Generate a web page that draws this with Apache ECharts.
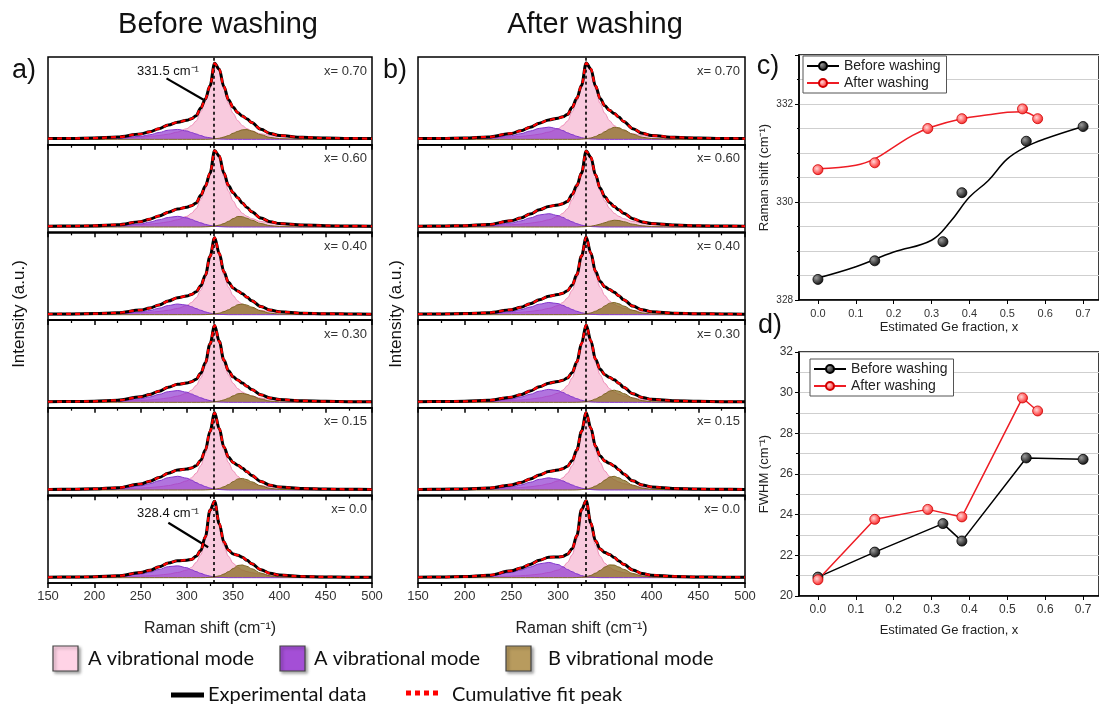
<!DOCTYPE html>
<html>
<head>
<meta charset="utf-8">
<script src="https://cdn.jsdelivr.net/npm/echarts@6/dist/echarts.min.js"></script>
<style>
  html, body { margin: 0; padding: 0; background: #fff; }
  #chart { width: 1099px; height: 705px; }
</style>
</head>
<body>
<div id="chart"></div>
<script>
// Raman shift sample positions (cm-1)
var ramanX = [150, 175, 200, 225, 250, 260, 270, 280, 290, 300, 305, 310, 315, 320, 325, 330,
  335, 340, 345, 350, 355, 360, 365, 370, 380, 390, 400, 425, 450, 475, 500];
var fractionLabels = ['x= 0.70', 'x= 0.60', 'x= 0.40', 'x= 0.30', 'x= 0.15', 'x= 0.0'];

// main A mode (pink), normalised
var pinkWide = [0.01, 0.012, 0.015, 0.02, 0.03, 0.038, 0.05, 0.068, 0.095, 0.14, 0.18, 0.24, 0.36, 0.5, 0.68, 0.98,
  0.9, 0.66, 0.47, 0.34, 0.245, 0.18, 0.14, 0.11, 0.072, 0.052, 0.04, 0.025, 0.017, 0.012, 0.01];
var pinkMid = [0.008, 0.01, 0.012, 0.016, 0.025, 0.032, 0.042, 0.058, 0.082, 0.12, 0.16, 0.22, 0.32, 0.48, 0.74, 0.99,
  0.78, 0.52, 0.36, 0.25, 0.18, 0.135, 0.105, 0.083, 0.056, 0.041, 0.031, 0.019, 0.013, 0.009, 0.007];
var pinkNarrow = [0.006, 0.008, 0.01, 0.013, 0.02, 0.026, 0.034, 0.047, 0.068, 0.1, 0.135, 0.2, 0.3, 0.5, 0.86, 0.98,
  0.68, 0.42, 0.28, 0.19, 0.135, 0.1, 0.08, 0.065, 0.045, 0.033, 0.025, 0.015, 0.01, 0.007, 0.005];
var pinkBefore = [pinkWide, pinkWide, pinkMid, pinkMid, pinkMid, pinkNarrow];
var pinkAfter = [pinkWide, pinkWide, pinkMid, pinkMid, pinkMid, pinkNarrow];

// second A mode (purple)
var purpleBefore = [
  [0, 0, 0.002, 0.01, 0.04, 0.06, 0.09, 0.12, 0.13, 0.11, 0.09, 0.07, 0.05, 0.03, 0.02, 0.01, 0.005, 0.002, 0, 0, 0, 0, 0, 0, 0, 0, 0, 0, 0, 0, 0],
  [0, 0, 0.002, 0.01, 0.04, 0.065, 0.095, 0.125, 0.14, 0.12, 0.1, 0.075, 0.055, 0.035, 0.02, 0.01, 0.005, 0.002, 0, 0, 0, 0, 0, 0, 0, 0, 0, 0, 0, 0, 0],
  [0, 0, 0.002, 0.008, 0.035, 0.055, 0.085, 0.12, 0.14, 0.125, 0.105, 0.08, 0.058, 0.037, 0.02, 0.01, 0.005, 0.002, 0, 0, 0, 0, 0, 0, 0, 0, 0, 0, 0, 0, 0],
  [0, 0, 0.002, 0.011, 0.047, 0.071, 0.105, 0.14, 0.155, 0.133, 0.11, 0.084, 0.06, 0.039, 0.022, 0.011, 0.005, 0.002, 0, 0, 0, 0, 0, 0, 0, 0, 0, 0, 0, 0, 0],
  [0, 0, 0.003, 0.013, 0.054, 0.083, 0.122, 0.162, 0.18, 0.155, 0.13, 0.097, 0.07, 0.045, 0.025, 0.013, 0.006, 0.003, 0, 0, 0, 0, 0, 0, 0, 0, 0, 0, 0, 0, 0],
  [0, 0, 0.002, 0.011, 0.047, 0.071, 0.108, 0.145, 0.155, 0.13, 0.105, 0.08, 0.057, 0.036, 0.02, 0.01, 0.005, 0.002, 0, 0, 0, 0, 0, 0, 0, 0, 0, 0, 0, 0, 0]
];
var purpleAfter = [
  [0, 0, 0.002, 0.011, 0.048, 0.074, 0.109, 0.144, 0.16, 0.138, 0.115, 0.086, 0.062, 0.04, 0.022, 0.011, 0.006, 0.002, 0, 0, 0, 0, 0, 0, 0, 0, 0, 0, 0, 0, 0],
  [0, 0, 0.003, 0.012, 0.053, 0.08, 0.119, 0.158, 0.175, 0.15, 0.126, 0.095, 0.068, 0.044, 0.025, 0.012, 0.006, 0.003, 0, 0, 0, 0, 0, 0, 0, 0, 0, 0, 0, 0, 0],
  [0, 0, 0.002, 0.009, 0.04, 0.065, 0.1, 0.138, 0.16, 0.145, 0.122, 0.095, 0.068, 0.045, 0.026, 0.013, 0.006, 0.002, 0, 0, 0, 0, 0, 0, 0, 0, 0, 0, 0, 0, 0],
  [0, 0, 0.002, 0.01, 0.043, 0.069, 0.106, 0.147, 0.17, 0.154, 0.13, 0.1, 0.072, 0.048, 0.028, 0.014, 0.007, 0.002, 0, 0, 0, 0, 0, 0, 0, 0, 0, 0, 0, 0, 0],
  [0, 0, 0.002, 0.009, 0.042, 0.066, 0.102, 0.14, 0.16, 0.142, 0.12, 0.092, 0.066, 0.043, 0.025, 0.012, 0.006, 0.002, 0, 0, 0, 0, 0, 0, 0, 0, 0, 0, 0, 0, 0],
  [0, 0, 0.004, 0.018, 0.07, 0.1, 0.14, 0.182, 0.2, 0.172, 0.144, 0.108, 0.078, 0.05, 0.028, 0.014, 0.007, 0.003, 0, 0, 0, 0, 0, 0, 0, 0, 0, 0, 0, 0, 0]
];

// B mode (brown)
var brownBefore = [
  [0, 0, 0, 0, 0, 0, 0, 0, 0, 0, 0, 0, 0, 0, 0.002, 0.007, 0.014, 0.03, 0.05, 0.08, 0.105, 0.125, 0.128, 0.11, 0.06, 0.025, 0.009, 0.001, 0, 0, 0],
  [0, 0, 0, 0, 0, 0, 0, 0, 0, 0, 0, 0, 0, 0.002, 0.005, 0.012, 0.025, 0.045, 0.075, 0.11, 0.138, 0.135, 0.115, 0.09, 0.045, 0.018, 0.006, 0.001, 0, 0, 0],
  [0, 0, 0, 0, 0, 0, 0, 0, 0, 0, 0, 0, 0, 0.001, 0.004, 0.01, 0.02, 0.04, 0.065, 0.1, 0.13, 0.14, 0.125, 0.1, 0.05, 0.02, 0.007, 0.001, 0, 0, 0],
  [0, 0, 0, 0, 0, 0, 0, 0, 0, 0, 0, 0, 0, 0.001, 0.003, 0.008, 0.016, 0.032, 0.055, 0.085, 0.112, 0.118, 0.105, 0.085, 0.043, 0.017, 0.006, 0.001, 0, 0, 0],
  [0, 0, 0, 0, 0, 0, 0, 0, 0, 0, 0, 0, 0, 0.001, 0.004, 0.01, 0.021, 0.042, 0.072, 0.11, 0.145, 0.152, 0.135, 0.108, 0.055, 0.022, 0.008, 0.001, 0, 0, 0],
  [0, 0, 0, 0, 0, 0, 0, 0, 0, 0, 0, 0, 0, 0.001, 0.005, 0.012, 0.024, 0.047, 0.08, 0.12, 0.16, 0.167, 0.148, 0.118, 0.06, 0.024, 0.009, 0.001, 0, 0, 0]
];
var brownAfter = [
  [0, 0, 0, 0, 0, 0, 0, 0, 0, 0, 0, 0, 0, 0, 0.003, 0.009, 0.018, 0.038, 0.066, 0.1, 0.135, 0.158, 0.152, 0.125, 0.068, 0.028, 0.01, 0.001, 0, 0, 0],
  [0, 0, 0, 0, 0, 0, 0, 0, 0, 0, 0, 0, 0, 0, 0.002, 0.005, 0.01, 0.022, 0.038, 0.057, 0.077, 0.089, 0.085, 0.07, 0.037, 0.015, 0.005, 0, 0, 0, 0],
  [0, 0, 0, 0, 0, 0, 0, 0, 0, 0, 0, 0, 0, 0.001, 0.004, 0.011, 0.023, 0.046, 0.075, 0.115, 0.15, 0.16, 0.143, 0.114, 0.057, 0.023, 0.008, 0.001, 0, 0, 0],
  [0, 0, 0, 0, 0, 0, 0, 0, 0, 0, 0, 0, 0, 0.001, 0.004, 0.01, 0.022, 0.044, 0.073, 0.112, 0.148, 0.16, 0.145, 0.116, 0.058, 0.023, 0.008, 0.001, 0, 0, 0],
  [0, 0, 0, 0, 0, 0, 0, 0, 0, 0, 0, 0, 0, 0.001, 0.005, 0.012, 0.026, 0.052, 0.085, 0.13, 0.17, 0.18, 0.16, 0.128, 0.064, 0.026, 0.009, 0.001, 0, 0, 0],
  [0, 0, 0, 0, 0, 0, 0, 0, 0, 0, 0, 0, 0, 0.002, 0.006, 0.015, 0.03, 0.06, 0.095, 0.14, 0.168, 0.165, 0.14, 0.11, 0.055, 0.022, 0.008, 0.001, 0, 0, 0]
];

// peak-position markers / arrows (cm-1, norm. intensity)
var peakLine = 329.5;
var arrowTop = [[278, 0.8], [318, 0.52]];
var arrowBottom = [[280, 0.72], [323, 0.4]];

// c) Raman shift vs Ge fraction
var geBefore = [0, 0.15, 0.33, 0.38, 0.55, 0.7];
var shiftBefore = [328.42, 328.8, 329.19, 330.19, 331.24, 331.54];
var geAfter = [0, 0.15, 0.29, 0.38, 0.54, 0.58];
var shiftAfter = [330.66, 330.8, 331.5, 331.7, 331.9, 331.7];
var fitBeforeX = [0, 0.1, 0.2, 0.3, 0.35, 0.4, 0.45, 0.5, 0.55, 0.6, 0.7];
var fitBeforeY = [328.45, 328.68, 328.98, 329.22, 329.6, 330.1, 330.44, 330.88, 331.13, 331.29, 331.54];
var fitAfterX = [0, 0.1, 0.15, 0.2, 0.25, 0.3, 0.38, 0.45, 0.5, 0.54, 0.58];
var fitAfterY = [330.68, 330.75, 330.88, 331.12, 331.36, 331.53, 331.7, 331.78, 331.83, 331.84, 331.7];

// d) FWHM vs Ge fraction
var fwhmBefore = [20.93, 22.16, 23.56, 22.7, 26.79, 26.72];
var fwhmAfter = [20.8, 23.77, 24.26, 23.89, 29.74, 29.1];
var geTicks = [0, 0.1, 0.2, 0.3, 0.4, 0.5, 0.6, 0.7];

var FONT = "'Liberation Sans', Arial, sans-serif";
var TITLE_FONT = "'Liberation Sans Narrow', 'Liberation Sans', Arial, sans-serif";

function zip(xs, ys) {
  return xs.map(function (x, i) { return [x, ys[i]]; });
}

var chart = echarts.init(document.getElementById('chart'));

var grids = [], xAxes = [], yAxes = [], series = [], graphics = [];
var panelLeft = [48, 418];
var panelWidth = [324, 327];
var rowTop = 57, rowH = 87.67;
var pinkSets = [pinkBefore, pinkAfter];
var purpleSets = [purpleBefore, purpleAfter];
var brownSets = [brownBefore, brownAfter];

var blackBall = {
  type: 'radial', x: 0.35, y: 0.35, r: 0.75,
  colorStops: [{ offset: 0, color: '#9a9a9a' }, { offset: 1, color: '#000' }]
};
var redBall = {
  type: 'radial', x: 0.4, y: 0.4, r: 0.75,
  colorStops: [{ offset: 0, color: '#ffd6d6' }, { offset: 0.55, color: '#ff5a5a' }, { offset: 1, color: '#d40000' }]
};

for (var p = 0; p < 2; p++) {
  for (var r = 0; r < 6; r++) {
    var g = p * 6 + r;
    var bottom = r === 5;
    grids.push({
      left: panelLeft[p], width: panelWidth[p], top: rowTop + r * rowH, height: rowH,
      show: true, borderColor: '#000', borderWidth: 1.5
    });
    xAxes.push({
      gridIndex: g, type: 'value', min: 150, max: 500, interval: 50,
      axisLine: { onZero: false, lineStyle: { color: '#000', width: 1.5 } },
      axisTick: { show: true, inside: false, length: 5, lineStyle: { color: '#000', width: 1.5 } },
      minorTick: { show: true, splitNumber: 2, length: 3, lineStyle: { color: '#000', width: 1.2 } },
      splitLine: { show: false },
      axisLabel: { show: bottom, fontSize: 13, color: '#333', margin: 7, fontFamily: FONT },
      name: bottom ? 'Raman shift (cm\u207B\u00B9)' : '',
      nameLocation: 'middle', nameGap: 38,
      nameTextStyle: { fontSize: 16, color: '#222', fontFamily: FONT }
    });
    yAxes.push({ gridIndex: g, type: 'value', min: -0.07, max: 1.08, show: false });

    var pink = pinkSets[p][r], purple = purpleSets[p][r], brown = brownSets[p][r];
    var total = ramanX.map(function (x, k) {
      return [x, +(pink[k] + purple[k] + brown[k]).toFixed(4)];
    });
    var common = { xAxisIndex: g, yAxisIndex: g, type: 'line', showSymbol: false, smooth: 0.35, smoothMonotone: 'x', silent: true };

    var pinkSeries = Object.assign({}, common, {
      name: 'pink' + g, z: 2,
      data: zip(ramanX, pink),
      lineStyle: { color: '#ef8fb8', width: 1 },
      areaStyle: { color: 'rgba(246,170,202,0.62)', opacity: 1 }
    });
    if (p === 0 && (r === 0 || r === 5)) {
      var arr = r === 0 ? arrowTop : arrowBottom;
      pinkSeries.markLine = {
        silent: true, animation: false,
        symbol: ['none', 'arrow'], symbolSize: [0, 12],
        label: { show: false },
        lineStyle: { color: '#000', width: 2.2, type: 'solid' },
        data: [[{ coord: arr[0] }, { coord: arr[1] }]]
      };
    }
    series.push(pinkSeries);
    series.push(Object.assign({}, common, {
      name: 'purple' + g, z: 3,
      data: zip(ramanX, purple),
      lineStyle: { color: '#8236cc', width: 1 },
      areaStyle: { color: 'rgba(140,50,208,0.68)', opacity: 1 }
    }));
    series.push(Object.assign({}, common, {
      name: 'brown' + g, z: 3,
      data: zip(ramanX, brown),
      lineStyle: { color: '#7d6523', width: 1 },
      areaStyle: { color: 'rgba(140,112,40,0.78)', opacity: 1 }
    }));
    series.push(Object.assign({}, common, {
      name: 'exp' + g, z: 4,
      data: total,
      lineStyle: { color: '#000', width: 3 }
    }));
    series.push(Object.assign({}, common, {
      name: 'fit' + g, z: 5,
      data: total,
      lineStyle: { color: '#ff0000', width: 2.2, type: [5, 4] },
      markLine: {
        silent: true, animation: false, symbol: ['none', 'none'],
        label: { show: false },
        lineStyle: { color: '#000', width: 1.6, type: [3, 3] },
        data: [{ xAxis: peakLine }]
      }
    }));

    graphics.push({
      type: 'text', x: panelLeft[p] + panelWidth[p] - 5, y: rowTop + r * rowH + 14,
      style: { text: fractionLabels[r], align: 'right', verticalAlign: 'middle', fontSize: 13, fill: '#333', fontFamily: FONT }
    });
  }
}

// c) and d) grids (right edge runs off the canvas as in the figure)
grids.push({ left: 799, top: 55, width: 302, height: 245, show: true, borderColor: '#000', borderWidth: 1.5 });
grids.push({ left: 799, top: 352, width: 302, height: 244, show: true, borderColor: '#000', borderWidth: 1.5 });

function geAxis(gi, labelSize, nameGap) {
  return {
    gridIndex: gi, type: 'value', min: -0.05, max: 0.742,
    axisLine: { onZero: false, lineStyle: { color: '#000', width: 1.5 } },
    axisTick: { show: true, inside: false, length: 4, customValues: geTicks, lineStyle: { color: '#000' } },
    axisLabel: {
      customValues: geTicks, fontSize: labelSize, color: '#333', fontFamily: FONT,
      formatter: function (v) { return v.toFixed(1); }
    },
    splitLine: { show: false },
    name: 'Estimated Ge fraction, x', nameLocation: 'middle', nameGap: nameGap,
    nameTextStyle: { fontSize: 13, color: '#222', fontFamily: FONT }
  };
}
xAxes.push(geAxis(12, 11, 21));
xAxes.push(geAxis(13, 12, 28));

yAxes.push({
  gridIndex: 12, type: 'value', min: 328, max: 333, interval: 2,
  axisLine: { onZero: false, lineStyle: { color: '#000', width: 1.5 } },
  axisTick: { inside: false, length: 4, lineStyle: { color: '#000' } },
  minorTick: { show: true, splitNumber: 4, length: 2, lineStyle: { color: '#000' } },
  splitLine: { show: true, lineStyle: { color: '#cfcfcf' } },
  minorSplitLine: { show: true, lineStyle: { color: '#cfcfcf' } },
  axisLabel: { fontSize: 10, color: '#333', fontFamily: FONT, margin: 6, showMaxLabel: false },
  name: 'Raman shift (cm\u207B\u00B9)', nameLocation: 'middle', nameGap: 28,
  nameTextStyle: { fontSize: 13, color: '#222', fontFamily: FONT }
});
yAxes.push({
  gridIndex: 13, type: 'value', min: 20, max: 32, interval: 2,
  axisLine: { onZero: false, lineStyle: { color: '#000', width: 1.5 } },
  axisTick: { inside: false, length: 4, lineStyle: { color: '#000' } },
  minorTick: { show: true, splitNumber: 2, length: 3, lineStyle: { color: '#000' } },
  splitLine: { show: true, lineStyle: { color: '#cfcfcf' } },
  minorSplitLine: { show: true, lineStyle: { color: '#cfcfcf' } },
  axisLabel: { fontSize: 12, color: '#333', fontFamily: FONT, margin: 6 },
  name: 'FWHM (cm\u207B\u00B9)', nameLocation: 'middle', nameGap: 28,
  nameTextStyle: { fontSize: 13, color: '#222', fontFamily: FONT }
});

// d) series go first so the legend icons come from the line+symbol series
var dSeries = [
  {
    name: 'Before washing', type: 'line', xAxisIndex: 13, yAxisIndex: 13, z: 4,
    data: zip(geBefore, fwhmBefore), symbol: 'circle', symbolSize: 10,
    lineStyle: { color: '#000', width: 1.5 },
    itemStyle: { color: blackBall, borderColor: '#000', borderWidth: 0.8 }
  },
  {
    name: 'After washing', type: 'line', xAxisIndex: 13, yAxisIndex: 13, z: 4,
    data: zip(geAfter, fwhmAfter), symbol: 'circle', symbolSize: 10,
    lineStyle: { color: '#ee1c24', width: 1.5 },
    itemStyle: { color: redBall, borderColor: '#d00000', borderWidth: 0.8 }
  }
];
var cSeries = [
  {
    name: 'fitBefore', type: 'line', xAxisIndex: 12, yAxisIndex: 12, z: 3,
    data: zip(fitBeforeX, fitBeforeY), smooth: 0.4, showSymbol: false, silent: true,
    lineStyle: { color: '#000', width: 1.5 }
  },
  {
    name: 'fitAfter', type: 'line', xAxisIndex: 12, yAxisIndex: 12, z: 3,
    data: zip(fitAfterX, fitAfterY), smooth: 0.4, showSymbol: false, silent: true,
    lineStyle: { color: '#ee1c24', width: 1.5 }
  },
  {
    name: 'Before washing', type: 'scatter', xAxisIndex: 12, yAxisIndex: 12, z: 4,
    data: zip(geBefore, shiftBefore), symbol: 'circle', symbolSize: 10,
    itemStyle: { color: blackBall, borderColor: '#000', borderWidth: 0.8, opacity: 1 }
  },
  {
    name: 'After washing', type: 'scatter', xAxisIndex: 12, yAxisIndex: 12, z: 4,
    data: zip(geAfter, shiftAfter), symbol: 'circle', symbolSize: 10,
    itemStyle: { color: redBall, borderColor: '#d00000', borderWidth: 0.8, opacity: 1 }
  }
];
series = dSeries.concat(series).concat(cSeries);

function legendAt(left, top) {
  return {
    data: ['Before washing', 'After washing'],
    left: left, top: top, orient: 'vertical',
    itemWidth: 32, itemHeight: 10, itemGap: 3,
    padding: [3, 6, 3, 3],
    borderColor: '#555', borderWidth: 1, backgroundColor: '#fff',
    selectedMode: false,
    textStyle: { fontSize: 14, color: '#222', fontFamily: FONT },
    lineStyle: { opacity: 1 }
  };
}

function txt(x, y, text, size, extra, family) {
  return Object.assign({
    type: 'text', x: x, y: y,
    style: { text: text, fontSize: size, fill: '#111', fontFamily: family || FONT, align: 'center', verticalAlign: 'middle' }
  }, extra || {});
}
function legendText(x, y, text) {
  return {
    type: 'text', x: x, y: y,
    style: { text: text, fontSize: 20, fill: '#111', fontFamily: 'Lato', align: 'left', verticalAlign: 'middle' }
  };
}
var boxShadow = { stroke: '#444', lineWidth: 1.2, shadowBlur: 3, shadowOffsetX: 2, shadowOffsetY: 2, shadowColor: 'rgba(0,0,0,0.35)' };

graphics = graphics.concat([
  txt(218, 25, 'Before washing', 29, null, TITLE_FONT),
  txt(595, 25, 'After washing', 29, null, TITLE_FONT),
  txt(24, 71, 'a)', 27),
  txt(395, 71, 'b)', 27),
  txt(768, 67, 'c)', 27),
  txt(770, 326, 'd)', 27),
  txt(19, 314, 'Intensity (a.u.)', 17, { rotation: Math.PI / 2 }),
  txt(396, 314, 'Intensity (a.u.)', 17, { rotation: Math.PI / 2 }),
  txt(168, 71, '331.5 cm\u207B\u00B9', 13),
  txt(168, 513, '328.4 cm\u207B\u00B9', 13),
  // bottom legend
  { type: 'rect', shape: { x: 53, y: 646, width: 25, height: 25 }, style: Object.assign({ fill: '#ffd3e6' }, boxShadow) },
  { type: 'rect', shape: { x: 280, y: 646, width: 25, height: 25 }, style: Object.assign({ fill: '#a44fd6' }, boxShadow) },
  { type: 'rect', shape: { x: 506, y: 646, width: 25, height: 25 }, style: Object.assign({ fill: '#b89b5e' }, boxShadow) },
  legendText(88, 659, 'A vibrational mode'),
  legendText(314, 659, 'A vibrational mode'),
  legendText(548, 659, 'B vibrational mode'),
  { type: 'line', shape: { x1: 171, y1: 695, x2: 204, y2: 695 }, style: { stroke: '#000', lineWidth: 5 } },
  { type: 'line', shape: { x1: 406, y1: 693, x2: 440, y2: 693 }, style: { stroke: '#ff0000', lineWidth: 5, lineDash: [5, 4] } },
  legendText(208, 695, 'Experimental data'),
  legendText(452, 695, 'Cumulative fit peak')
]);

chart.setOption({
  animation: false,
  backgroundColor: '#fff',
  grid: grids,
  xAxis: xAxes,
  yAxis: yAxes,
  legend: [legendAt(803, 56), legendAt(810, 359)],
  series: series,
  graphic: graphics
});
</script>
</body>
</html>
